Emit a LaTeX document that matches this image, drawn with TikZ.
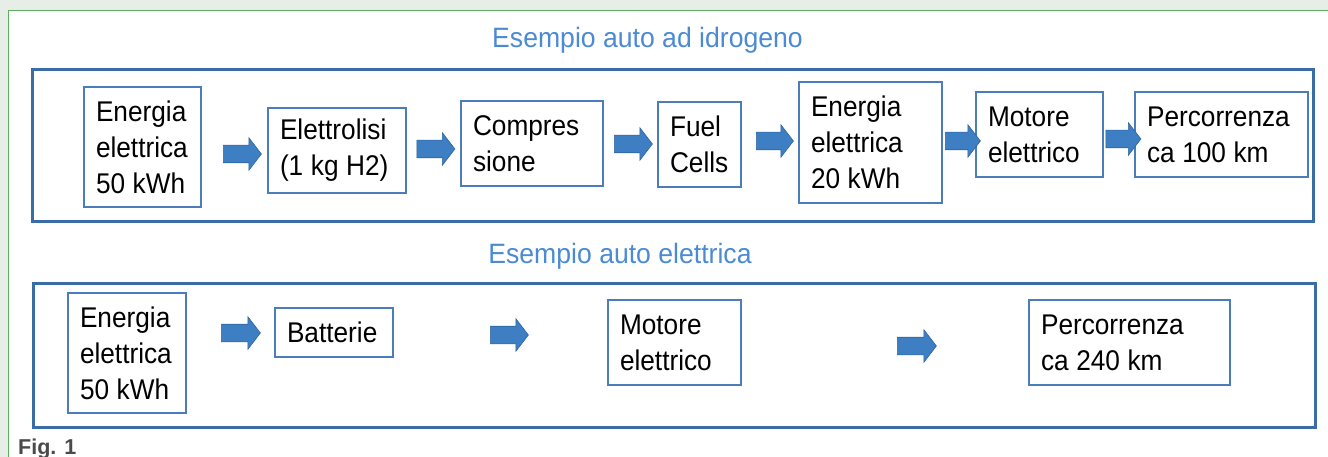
\documentclass[tikz,border=0pt]{standalone}
\usepackage{fontspec}
\setmainfont{Liberation Sans}[FakeStretch=0.92]
\newfontfamily\titlefont{Liberation Sans}[FakeStretch=0.95]
\newfontfamily\figfont{Liberation Sans}
\usetikzlibrary{shapes.arrows}
\hyphenpenalty=10000
\exhyphenpenalty=10000
\definecolor{bgout}{HTML}{E7EEE7}
\definecolor{greenline}{HTML}{5FAE5F}
\definecolor{frameblue}{HTML}{3A6CA6}
\definecolor{boxblue}{HTML}{4A7DBA}
\definecolor{titleblue}{HTML}{4A8BD4}
\definecolor{arrowblue}{HTML}{3E7EC3}
\definecolor{arrowedge}{HTML}{2F65A2}
\definecolor{figgray}{HTML}{4A4A4A}
\begin{document}
\begin{tikzpicture}[x=1pt,y=-1pt,
  frame/.style={draw=frameblue, line width=3pt},
  box/.style={draw=boxblue, line width=1.4pt, fill=white, inner xsep=12pt, inner ysep=0pt,
    align=left, text=black, font=\fontsize{28.5}{36}\selectfont,
    execute at begin node={\spaceskip=7.6pt\relax}},
  arr/.style={single arrow, fill=arrowblue, draw=arrowedge, line width=0.6pt,
    single arrow head extend=7.5pt, single arrow tip angle=105,
    inner xsep=0pt, inner ysep=8.5pt, text height=0pt, text depth=0pt, anchor=center},
  ttl/.style={text=titleblue, anchor=base, font=\titlefont\fontsize{28}{34}\selectfont},
]
% background and panel
\fill[bgout] (0,0) rectangle (1328,457);
\useasboundingbox (0,0) rectangle (1328,457);
\filldraw[fill=white, draw=greenline, line width=1.5pt] (8.5,10.5) rectangle (1345,475);

% titles
\node[ttl] (title1) at (647.5,48) {Esempio auto ad idrogeno};
\node[ttl] (title2) at (620,263) {Esempio auto elettrica};

% frames
\draw[frame] (32,70) rectangle (1313,222);
\draw[frame] (33,283) rectangle (1315,427);

% top row
\node[box, minimum height=120pt, text width=93pt]  (t1) at (142.5,147)  {Energia\\elettrica\\50 kWh};
\node[box, minimum height=85pt,  text width=114pt] (t2) at (337,150.5)  {Elettrolisi\\(1 kg H2)};
\node[box, minimum height=85pt,  text width=118pt] (t3) at (532,143.5)  {Compres\\sione};
\node[box, minimum height=85pt,  text width=59pt]  (t4) at (699.5,144.5) {Fuel\\Cells};
\node[box, minimum height=121pt, text width=119pt] (t5) at (870.5,142.5) {Energia\\elettrica\\20 kWh};
\node[box, minimum height=85pt,  text width=103pt] (t6) at (1039.5,134.5) {Motore\\elettrico};
\node[box, minimum height=85pt,  text width=149pt] (t7) at (1221.5,134.5) {Percorrenza\\ca 100 km};

\node[arr, minimum height=38pt] (a1) at (239,154) {};
\node[arr, minimum height=38pt] (a2) at (432.5,149) {};
\node[arr, minimum height=38pt] (a3) at (630,144) {};
\node[arr, minimum height=37pt] (a4) at (771.5,141) {};
\node[arr, minimum height=35pt] (a5) at (959.5,141) {};
\node[arr, minimum height=35pt] (a6) at (1120,139) {};

% bottom row
\node[box, minimum height=120pt, text width=94pt]  (b1) at (127,353)    {Energia\\elettrica\\50 kWh};
\node[box, minimum height=49pt,  text width=94pt]  (b2) at (334,332.5)  {Batterie};
\node[box, minimum height=85pt,  text width=109pt] (b3) at (674.5,342.5) {Motore\\elettrico};
\node[box, minimum height=85pt,  text width=177pt] (b4) at (1129.5,342.5) {Percorrenza\\ca 240 km};

\node[arr, minimum height=39pt] (c1) at (237.5,333) {};
\node[arr, minimum height=38pt] (c2) at (506,335) {};
\node[arr, minimum height=39pt] (c3) at (913.5,346) {};

% caption
\node[anchor=base west, inner sep=0pt, text=figgray, font=\figfont\fontsize{21.5}{24}\selectfont\bfseries] (fig) at (18,454) {Fig. 1};
\end{tikzpicture}
\end{document}
